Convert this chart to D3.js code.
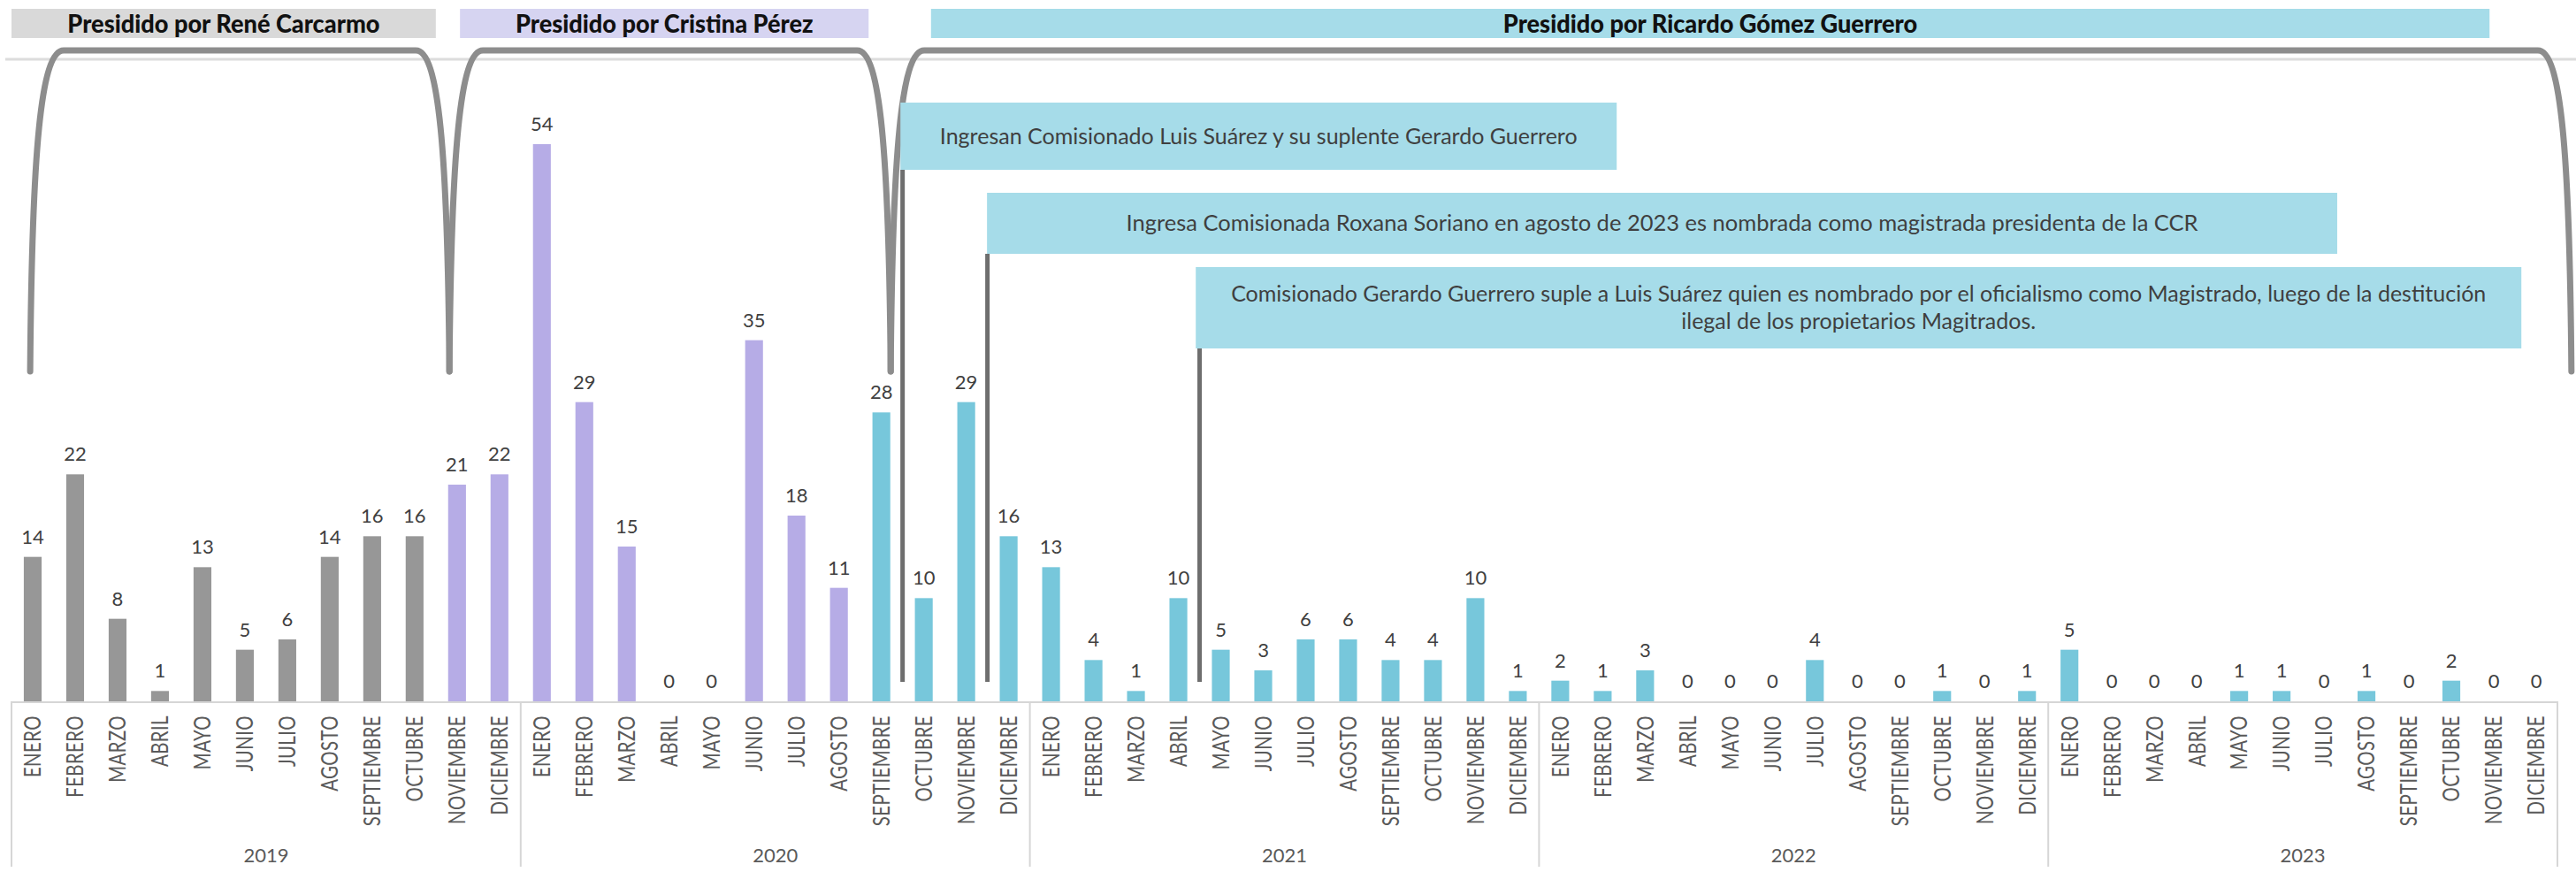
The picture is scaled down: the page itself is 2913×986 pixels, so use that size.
<!DOCTYPE html>
<html>
<head>
<meta charset="utf-8">
<script src="https://cdn.jsdelivr.net/npm/d3@7"></script>
<style>
  html, body { margin: 0; padding: 0; background: #ffffff; }
  svg { display: block; }
</style>
</head>
<body>
<div id="chart"></div>
<script>
// ---------- DATA ----------
const months = ["ENERO","FEBRERO","MARZO","ABRIL","MAYO","JUNIO","JULIO","AGOSTO","SEPTIEMBRE","OCTUBRE","NOVIEMBRE","DICIEMBRE"];
const years = ["2019","2020","2021","2022","2023"];
const values2019 = [14,22,8,1,13,5,6,14,16,16,21,22];
const values2020 = [54,29,15,0,0,35,18,11,28,10,29,16];
const values2021 = [13,4,1,10,5,3,6,6,4,4,10,1];
const values2022 = [2,1,3,0,0,0,4,0,0,1,0,1];
const values2023 = [5,0,0,0,1,1,0,1,0,2,0,0];
// presidency periods (month index ranges, 0 = ENERO 2019)
const presidents = ["Presidido por René Carcarmo","Presidido por Cristina Pérez","Presidido por Ricardo Gómez Guerrero"];
const periodStart = [0, 10, 20];
const periodEnd   = [10, 20, 60];
const callouts = [
  ["Ingresan Comisionado Luis Suárez y su suplente Gerardo Guerrero"],
  ["Ingresa Comisionada  Roxana Soriano en agosto de 2023 es nombrada como magistrada presidenta de la CCR"],
  ["Comisionado Gerardo Guerrero suple a Luis Suárez quien es nombrado por el oficialismo como Magistrado, luego de la destitución","ilegal de los propietarios Magitrados."]
];
const calloutMonth = [21, 23, 28]; // event month boundary

// ---------- BUILD ----------
const allValues = [].concat(values2019, values2020, values2021, values2022, values2023);
const data = allValues.map((v, i) => ({
  i, v, month: months[i % 12], year: years[Math.floor(i / 12)],
  period: i < periodEnd[0] ? 0 : (i < periodEnd[1] ? 1 : 2)
}));

const W = 2913, H = 986;
const barColors = ["#979797", "#b6ace6", "#77c7db"];
const headColors = ["#d9d9d9", "#d6d4f1", "#a6dce9"];
const boxColor = "#a6dce9";

const svg = d3.select("#chart").append("svg").attr("width", W).attr("height", H)
  .style("font-family", "Lato, 'Open Sans', sans-serif");

const x = d3.scaleBand().domain(d3.range(60)).range([13, 2892]).paddingInner(0.58).paddingOuter(0.29);
const xc = d3.scaleLinear().domain([0, 60]).range([13, 2892]); // continuous month position (edges)
const y = d3.scaleLinear().domain([0, 54]).range([793, 163]);
const base = y(0);

// thin top rule
svg.append("line").attr("x1", 6).attr("x2", W).attr("y1", 67).attr("y2", 67)
  .attr("stroke", "#dcdcdc").attr("stroke-width", 3);

// header bands
const headSpan = [[0, 10], [10.57, 20.2], [21.67, 58.4]];
const heads = svg.append("g");
presidents.forEach((p, k) => {
  const x0 = xc(headSpan[k][0]), x1 = xc(headSpan[k][1]);
  heads.append("rect").attr("x", x0).attr("y", 10).attr("width", x1 - x0).attr("height", 33)
    .attr("fill", headColors[k]);
  heads.append("text").attr("transform", `translate(${(x0 + x1) / 2},27) scale(0.97,1)`)
    .attr("text-anchor", "middle").attr("dy", "0.35em")
    .attr("font-size", 28).attr("font-weight", 900).attr("fill", "#111")
    .text(p);
});

// brackets for presidencies
const bracketLegs = [[0.44, 10.32], [10.32, 20.72], [20.72, 60.33]];
const yTop = 57, yBot = 420;
bracketLegs.forEach(([a, b]) => {
  const xa = xc(a), xb = xc(b);
  const p = d3.path();
  p.moveTo(xa, yBot);
  p.bezierCurveTo(xa + 2, 170, xa + 12, yTop, xa + 38, yTop);
  p.lineTo(xb - 38, yTop);
  p.bezierCurveTo(xb - 12, yTop, xb - 2, 170, xb, yBot);
  svg.append("path").attr("d", p.toString()).attr("fill", "none")
    .attr("stroke", "#8d8d8d").attr("stroke-width", 7).attr("stroke-linecap", "round");
});

// callout boxes
const boxSpan = [[20.95, 37.83, 116, 192], [22.99, 54.81, 218, 287], [27.91, 59.15, 302, 394]];
const boxFont = [25, 25, 25];
const boxSquash = [1, 1.02, 1];
callouts.forEach((lines, k) => {
  const [a, b, t, btm] = boxSpan[k];
  const x0 = xc(a), x1 = xc(b);
  svg.append("rect").attr("x", x0).attr("y", t).attr("width", x1 - x0).attr("height", btm - t)
    .attr("fill", boxColor);
  const cy = (t + btm) / 2, lh = 31;
  lines.forEach((ln, j) => {
    svg.append("text")
      .attr("transform", `translate(${(x0 + x1) / 2},${cy + (j - (lines.length - 1) / 2) * lh}) scale(${boxSquash[k]},1)`)
      .attr("dy", "0.35em").attr("text-anchor", "middle")
      .attr("font-size", boxFont[k]).attr("fill", "#3f3f3f").text(ln);
  });
  // connector
  const lx = xc(calloutMonth[k]);
  svg.append("line").attr("x1", lx).attr("x2", lx).attr("y1", btm).attr("y2", 771)
    .attr("stroke", "#6e6e6e").attr("stroke-width", 5);
});

// bars
svg.append("g").selectAll("rect").data(data).join("rect")
  .attr("x", d => x(d.i)).attr("width", x.bandwidth())
  .attr("y", d => y(d.v)).attr("height", d => base - y(d.v))
  .attr("fill", d => barColors[d.period]);

// value labels
svg.append("g").selectAll("text").data(data).join("text")
  .attr("x", d => x(d.i) + x.bandwidth() / 2).attr("y", d => y(d.v) - 15)
  .attr("text-anchor", "middle").attr("font-size", 22).attr("fill", "#404040")
  .text(d => d.v);

// axis baseline and year separators
svg.append("line").attr("x1", xc(0)).attr("x2", xc(60)).attr("y1", base + 1).attr("y2", base + 1)
  .attr("stroke", "#d6d6d6").attr("stroke-width", 2);
svg.append("g").selectAll("line").data(d3.range(0, 61, 12)).join("line")
  .attr("x1", d => xc(d)).attr("x2", d => xc(d)).attr("y1", base).attr("y2", 980)
  .attr("stroke", "#d6d6d6").attr("stroke-width", 2);

// month labels
svg.append("g").selectAll("text").data(data).join("text")
  .attr("transform", d => `translate(${x(d.i) + x.bandwidth() / 2},809) rotate(-90) scale(0.785,1)`)
  .attr("text-anchor", "end").attr("dy", "0.36em")
  .attr("font-size", 26).attr("fill", "#5a5a5a").attr("letter-spacing", 0.5)
  .text(d => d.month);

// year labels
svg.append("g").selectAll("text").data(years).join("text")
  .attr("x", (d, k) => xc(k * 12 + 6)).attr("y", 967).attr("dy", "0.35em")
  .attr("text-anchor", "middle").attr("font-size", 22).attr("fill", "#5a5a5a")
  .text(d => d);
</script>
</body>
</html>
